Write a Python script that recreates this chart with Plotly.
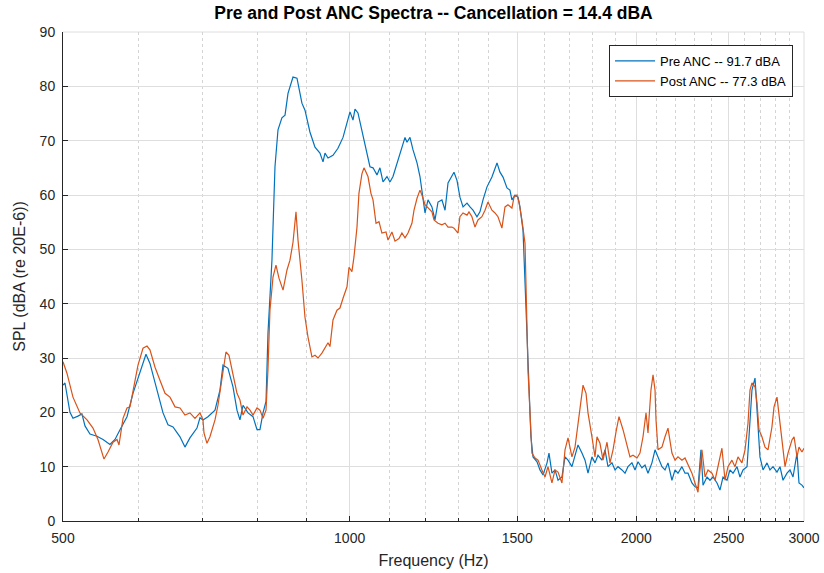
import math
import plotly.graph_objects as go

# ---------------- data ----------------
pre_freq = [500.0, 502.4, 508.5, 512.2, 518.4, 523.4, 527.3, 533.7, 542.8, 550.8, 560.1, 567.0, 573.9,
            583.7, 592.2, 602.2, 611.1, 617.0, 627.6, 636.8, 644.5, 652.4, 663.5, 671.5, 679.6, 691.3,
            696.3, 701.4, 709.9, 722.1, 730.8, 736.2, 745.1, 754.2, 761.5, 767.0, 772.7, 782.1, 791.6,
            799.3, 805.0, 811.0, 816.9, 820.8, 828.7, 834.8, 840.9, 848.9, 855.3, 861.5, 872.0, 880.4,
            891.0, 897.6, 908.4, 919.6, 930.7, 937.6, 942.1, 949.0, 960.5, 972.1, 984.1, 993.6, 1000.8,
            1008.1, 1013.0, 1020.3, 1030.1, 1042.8, 1050.3, 1058.1, 1068.3, 1076.0, 1084.0, 1094.5,
            1102.4, 1110.5, 1123.9, 1134.7, 1143.2, 1148.7, 1157.0, 1165.6, 1176.9, 1185.3, 1194.1,
            1199.9, 1208.6, 1220.1, 1229.2, 1238.1, 1249.9, 1259.4, 1268.5, 1280.6, 1287.0, 1296.3,
            1305.6, 1315.4, 1328.1, 1337.7, 1347.5, 1360.5, 1370.3, 1380.5, 1393.9, 1410.6, 1428.0,
            1438.3, 1448.9, 1462.9, 1473.4, 1480.5, 1491.6, 1502.4, 1509.5, 1520.7, 1531.7, 1539.1,
            1550.1, 1558.0, 1573.1, 1584.4, 1596.1, 1611.6, 1619.3, 1630.9, 1643.1, 1655.0, 1670.8,
            1683.3, 1695.5, 1711.7, 1724.5, 1737.0, 1753.6, 1766.7, 1779.5, 1796.5, 1809.9, 1823.0,
            1840.4, 1854.2, 1867.6, 1885.5, 1899.7, 1913.4, 1931.7, 1946.1, 1960.1, 1978.9, 1993.7,
            2008.1, 2027.3, 2042.5, 2057.3, 2077.0, 2092.6, 2107.7, 2127.9, 2143.7, 2159.2, 2179.9,
            2196.2, 2212.0, 2233.2, 2249.9, 2266.2, 2287.9, 2305.0, 2321.7, 2338.3, 2350.1, 2372.8,
            2389.9, 2407.6, 2430.9, 2448.4, 2466.5, 2490.4, 2508.3, 2526.9, 2551.4, 2569.7, 2588.8,
            2613.9, 2626.4, 2645.2, 2664.9, 2677.8, 2697.0, 2717.0, 2743.3, 2763.0, 2783.5, 2810.4,
            2830.7, 2851.7, 2879.3, 2900.0, 2921.5, 2949.8, 2963.9, 2985.1, 3000.0]
pre_spl = [25.0, 25.4, 20.0, 18.9, 19.3, 19.7, 17.5, 16.0, 15.6, 15.0, 14.1, 15.0, 16.8,
           19.2, 23.5, 27.2, 30.7, 29.0, 24.1, 19.9, 17.7, 17.3, 15.5, 13.6, 15.3, 17.1,
           19.0, 18.6, 19.2, 20.4, 24.1, 28.7, 28.1, 24.7, 20.4, 18.6, 21.3, 19.9, 19.2,
           16.8, 16.8, 19.9, 22.0, 34.6, 48.0, 65.2, 72.0, 74.2, 74.7, 78.7, 81.7, 81.5,
           76.9, 75.6, 71.6, 68.8, 67.7, 66.1, 67.7, 66.8, 67.3, 68.6, 70.6, 73.4, 75.3,
           73.8, 75.8, 75.1, 72.0, 67.7, 65.2, 65.0, 63.7, 65.0, 62.4, 63.4,
           62.4, 63.4, 66.2, 68.5, 70.6, 69.7, 70.6, 68.3, 65.9, 63.4, 59.1,
           56.7, 59.1, 57.8, 55.4, 58.7, 59.1, 57.2, 62.2, 63.7, 64.2, 62.7,
           59.6, 57.8, 58.5, 57.8, 57.2, 56.0, 56.9, 59.1, 61.5, 63.3, 65.9,
           64.2, 63.3, 61.3, 60.9, 59.1, 60.0, 59.6, 57.8, 53.5, 40.0, 27.8,
           15.5, 11.8, 10.9, 9.4, 8.5, 10.7, 12.5, 8.8, 9.4, 7.5, 8.1,
           11.8, 11.2, 10.0, 11.8, 14.0, 12.5, 11.2, 8.8, 11.8, 10.7, 12.1,
           11.2, 13.1, 10.0, 10.7, 9.4, 10.0, 9.4, 8.8, 10.0, 10.7, 9.4,
           10.9, 9.8, 10.3, 8.8, 10.7, 13.1, 11.8, 10.0, 9.4, 10.7, 7.5,
           9.4, 8.8, 10.0, 8.8, 8.8, 7.0, 6.3, 6.1, 13.1, 6.6, 8.1,
           7.5, 8.1, 7.0, 5.7, 8.1, 7.5, 9.4, 8.8, 10.0, 8.1, 9.4,
           10.0, 15.5, 24.1, 26.3, 20.4, 11.8, 9.4, 10.7, 9.4, 10.0, 9.0,
           10.0, 7.5, 8.8, 9.4, 8.1, 12.5, 7.0, 6.6, 6.1]

post_freq = [500.0, 504.8, 512.2, 520.9, 529.9, 537.6, 544.1, 549.3, 552.1, 557.5, 564.3, 569.8, 572.5,
             578.1, 583.7, 587.9, 592.2, 599.4, 606.7, 612.6, 617.0, 624.6, 632.1, 639.9, 647.6, 655.6,
             663.5, 671.5, 679.6, 688.0, 696.3, 701.4, 703.1, 708.2, 713.3, 722.1, 727.3, 734.3, 741.5,
             746.9, 754.2, 761.5, 767.0, 772.7, 780.2, 785.8, 791.6, 799.3, 805.0, 811.0, 816.9, 820.8,
             824.7, 830.8, 836.8, 842.9, 851.2, 859.4, 865.6, 872.0, 878.3, 882.6, 891.0, 897.6, 904.1,
             912.8, 919.6, 926.3, 935.1, 942.1, 949.0, 953.5, 960.5, 969.8, 976.8, 984.1, 993.6, 998.4,
             1005.5, 1010.5, 1017.9, 1022.7, 1030.1, 1035.3, 1045.3, 1052.8, 1058.1, 1065.8, 1073.5,
             1081.1, 1091.9, 1097.1, 1107.6, 1115.9, 1126.6, 1134.7, 1143.2, 1151.5, 1162.5, 1168.4,
             1176.9, 1185.3, 1191.0, 1199.9, 1208.6, 1220.1, 1226.3, 1238.1, 1249.9, 1259.4, 1268.5,
             1280.6, 1287.0, 1299.4, 1305.6, 1315.4, 1328.1, 1334.5, 1344.0, 1354.0, 1363.8, 1376.8,
             1387.2, 1397.2, 1410.6, 1421.1, 1431.4, 1445.1, 1455.9, 1466.4, 1480.5, 1488.0, 1498.8,
             1506.0, 1516.7, 1528.1, 1539.1, 1553.8, 1565.5, 1576.9, 1591.9, 1603.8, 1615.4, 1630.9,
             1643.1, 1655.0, 1670.8, 1683.3, 1695.5, 1711.7, 1724.5, 1737.0, 1749.4, 1758.2, 1771.0,
             1779.5, 1796.5, 1809.9, 1818.6, 1831.7, 1845.3, 1863.2, 1876.6, 1890.5, 1904.2, 1918.0,
             1936.7, 1955.4, 1969.5, 1984.1, 2003.3, 2017.7, 2032.7, 2047.5, 2057.3, 2072.1, 2082.5,
             2092.6, 2097.6, 2107.7, 2127.9, 2143.7, 2159.2, 2179.9, 2196.2, 2212.0, 2233.2, 2249.9,
             2266.2, 2287.9, 2305.0, 2321.7, 2343.9, 2361.5, 2378.5, 2401.3, 2419.3, 2436.7, 2460.0,
             2478.4, 2496.3, 2520.2, 2539.1, 2557.5, 2581.9, 2601.3, 2620.1, 2632.7, 2645.2, 2664.9,
             2677.8, 2690.6, 2709.9, 2730.2, 2749.9, 2776.2, 2790.2, 2810.4, 2823.9, 2844.1, 2865.5,
             2886.2, 2913.8, 2928.6, 2949.8, 2963.9, 2985.1, 3000.0]
post_spl = [29.3, 27.2, 22.8, 19.9, 18.6, 17.1, 15.0, 12.7, 11.4, 12.7, 14.5, 15.0, 14.0,
            18.9, 20.8, 21.0, 24.1, 28.7, 31.8, 32.2, 31.5, 28.3, 25.9, 23.5, 22.8, 21.0,
            20.8, 19.5, 19.9, 18.9, 19.9, 18.6, 16.2, 14.3, 15.5, 18.6, 21.3, 26.5, 31.1,
            30.5, 27.2, 23.5, 22.3, 19.5, 21.0, 20.4, 19.5, 20.8, 20.4, 18.9, 20.4, 28.0,
            38.8, 44.9, 47.1, 44.7, 42.5, 46.2, 48.0, 51.3, 56.9, 51.7, 44.3, 37.5, 33.9,
            30.2, 30.5, 30.0, 30.9, 31.8, 32.8, 32.1, 37.0, 38.8, 39.2, 41.0, 43.1, 46.7,
            45.9, 48.6, 54.1, 60.3, 63.9, 65.0, 63.4, 60.3, 59.1, 54.8, 55.1,
            53.0, 53.2, 51.7, 53.2, 51.5, 52.0, 53.0, 52.1, 53.0, 54.8,
            57.2, 59.4, 60.9, 60.0, 58.2, 57.6, 56.9, 55.4, 54.8, 54.5, 54.8,
            54.1, 54.1, 53.9, 53.0, 56.0, 56.7, 56.3, 56.9, 56.0, 54.1, 55.4,
            56.0, 57.2, 58.7, 57.2, 56.7, 56.0, 53.9, 57.8, 58.2, 57.6, 59.6,
            60.0, 58.7, 55.4, 51.1, 27.8, 12.5, 11.6, 11.2, 9.4, 8.1, 10.0, 7.0,
            9.4, 9.0, 7.0, 13.1, 15.3, 11.8, 13.6, 17.7, 21.7, 25.0, 23.5,
            19.9, 15.5, 11.8, 15.5, 14.3, 11.2, 14.5, 10.7, 13.1, 16.4, 19.2,
            16.8, 13.6, 11.8, 12.1, 11.6, 12.5, 15.5, 19.9, 16.2, 24.1, 26.9,
            24.1, 18.6, 13.1, 13.6, 15.5, 17.1, 12.5, 11.2, 11.8, 11.2, 11.6,
            10.3, 8.8, 7.0, 5.3, 13.1, 8.1, 9.4, 8.8, 7.5, 10.0, 13.4,
            7.5, 10.0, 11.2, 10.0, 11.8, 10.7, 13.1, 18.0, 24.1, 25.4, 24.7,
            21.7, 16.8, 15.5, 13.6, 13.1, 17.3, 21.0, 22.8, 19.9, 14.9, 10.0,
            12.5, 14.9, 15.5, 11.8, 13.6, 12.7, 13.4]

pre_label = "Pre ANC -- 91.7 dBA"
post_label = "Post ANC -- 77.3 dBA"
title_text = "Pre and Post ANC Spectra -- Cancellation = 14.4 dBA"
x_title = "Frequency (Hz)"
y_title = "SPL (dBA (re 20E-6))"

x_major = [500, 1000, 1500, 2000, 2500, 3000]
x_minor = [600, 700, 800, 900, 1100, 1200, 1300, 1400, 1600, 1700, 1800, 1900,
           2100, 2200, 2300, 2400, 2600, 2700, 2800, 2900]
y_ticks = [0, 10, 20, 30, 40, 50, 60, 70, 80, 90]

BLUE = "#0072BD"
ORANGE = "#D95319"
FONT = "Liberation Sans, Arial, sans-serif"
TXT = "#262626"
GRID = "#dedede"

W, H = 824, 573
L, R, T, B = 63, 20, 32, 52
PW, PH = W - L - R, H - T - B

fig = go.Figure()
fig.add_trace(go.Scatter(x=pre_freq, y=pre_spl, mode="lines", name=pre_label,
                         line=dict(color=BLUE, width=1.2)))
fig.add_trace(go.Scatter(x=post_freq, y=post_spl, mode="lines", name=post_label,
                         line=dict(color=ORANGE, width=1.2)))

fig.update_layout(
    width=W, height=H,
    margin=dict(l=L, r=R, t=T, b=B, autoexpand=False),
    paper_bgcolor="white", plot_bgcolor="white",
    font=dict(family=FONT, size=14, color=TXT),
    title=dict(text="<b>" + title_text + "</b>", x=(L + PW / 2) / W, xanchor="center",
               y=1 - 13 / H, yanchor="middle", font=dict(size=17.5, color="#000000")),
    showlegend=True,
    legend=dict(x=(793 - L) / PW, y=1 - (45 - T) / PH,
                xanchor="right", yanchor="top",
                bgcolor="white", bordercolor="#262626", borderwidth=1,
                font=dict(size=13, color="#000000"), tracegroupgap=0,
                itemwidth=40),
)

fig.update_xaxes(
    type="log", range=[math.log10(500), math.log10(3000)],
    tickvals=x_major, ticktext=[str(v) for v in x_major],
    ticks="inside", ticklen=5, tickcolor=TXT, ticklabelstandoff=4,
    showline=True, linecolor=TXT, linewidth=1, mirror=False,
    showgrid=True, gridcolor=GRID, gridwidth=1,
    minor=dict(tickvals=x_minor, ticks="inside", ticklen=3, tickcolor=TXT,
               showgrid=True, gridcolor="#d4d4d4", griddash="dot", gridwidth=1),
    title=dict(text=x_title, font=dict(size=16, color=TXT), standoff=10),
    tickfont=dict(size=14, color=TXT),
    zeroline=False, automargin=False,
)
fig.update_yaxes(
    range=[0, 90], tickvals=y_ticks,
    ticks="inside", ticklen=5, tickcolor=TXT, ticklabelstandoff=4,
    showline=True, linecolor=TXT, linewidth=1, mirror=False,
    showgrid=True, gridcolor=GRID, gridwidth=1,
    title=dict(text=y_title, font=dict(size=16, color=TXT), standoff=10),
    tickfont=dict(size=14, color=TXT),
    zeroline=False, automargin=False,
)

# light top / right border (MATLAB box edges)
fig.add_shape(type="line", xref="paper", yref="paper", x0=0, x1=1, y0=1, y1=1,
              line=dict(color=GRID, width=1), layer="below")
fig.add_shape(type="line", xref="paper", yref="paper", x0=1, x1=1, y0=0, y1=1,
              line=dict(color=GRID, width=1), layer="below")

# remove the browser's default 8px page margin so the figure fills the window
fig.write_html("out.html",
               config={"displayModeBar": False},
               post_script="document.body.style.margin='0';document.body.style.padding='0';"
                           "document.body.style.overflow='hidden';")
